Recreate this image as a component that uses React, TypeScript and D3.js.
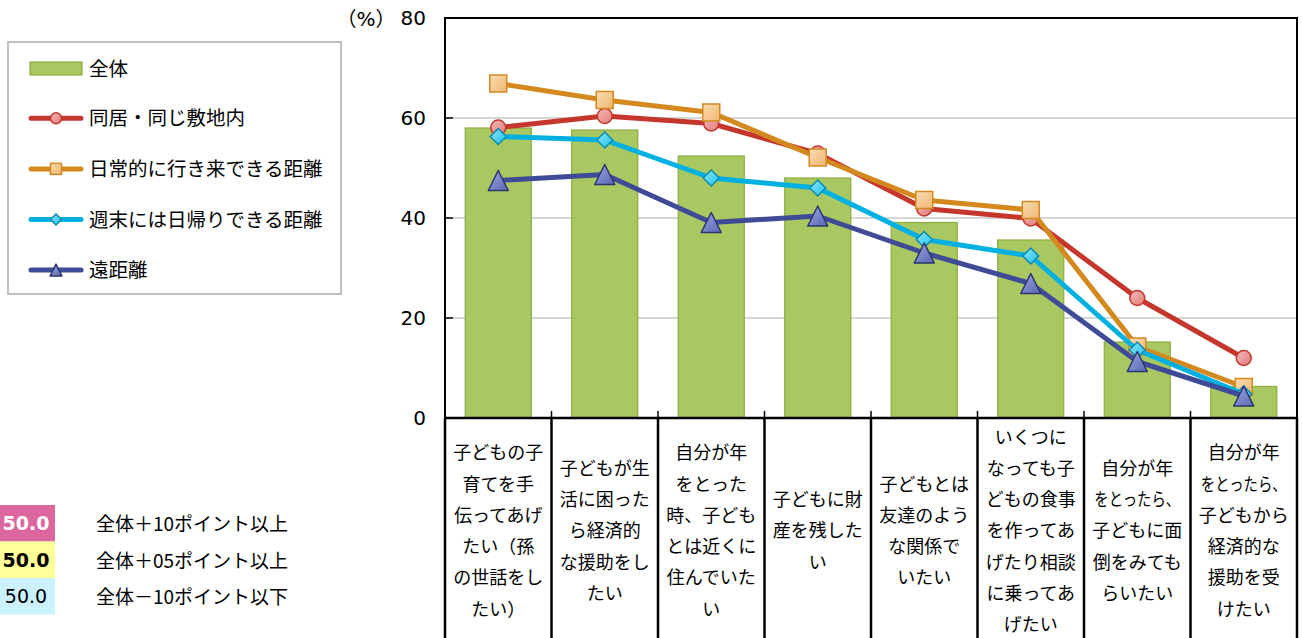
import React from "react";
import * as d3 from "d3";

const categories: string[][] = [
  ["子どもの子", "育てを手", "伝ってあげ", "たい（孫", "の世話をし", "たい）"],
  ["子どもが生", "活に困った", "ら経済的", "な援助をし", "たい"],
  ["自分が年", "をとった", "時、子ども", "とは近くに", "住んでいた", "い"],
  ["子どもに財", "産を残した", "い"],
  ["子どもとは", "友達のよう", "な関係で", "いたい"],
  ["いくつに", "なっても子", "どもの食事", "を作ってあ", "げたり相談", "に乗ってあ", "げたい"],
  ["自分が年", "をとったら、", "子どもに面", "倒をみても", "らいたい"],
  ["自分が年", "をとったら、", "子どもから", "経済的な", "援助を受", "けたい"],
];

const totalValues = [58.0, 57.6, 52.4, 48.0, 39.1, 35.6, 15.2, 6.3];
const doukyoValues = [58.1, 60.4, 58.9, 52.9, 41.9, 39.9, 24.0, 12.0];
const nichijoValues = [66.9, 63.6, 61.1, 52.1, 43.6, 41.6, 14.3, 6.2];
const shumatsuValues = [56.3, 55.6, 48.0, 46.0, 35.7, 32.4, 13.6, 4.8];
const enkyoriValues = [47.5, 48.7, 39.1, 40.4, 33.0, 26.9, 11.3, 4.4];

const seriesNames = ["全体", "同居・同じ敷地内", "日常的に行き来できる距離", "週末には日帰りできる距離", "遠距離"];
const yTicks = [0, 20, 40, 60, 80];
const highlightLegend = [
  { value: "50.0", label: "全体＋10ポイント以上" },
  { value: "50.0", label: "全体＋05ポイント以上" },
  { value: "50.0", label: "全体－10ポイント以下" },
];

const FONT = "'DejaVu Sans', 'Noto Sans CJK JP', sans-serif";
const JFONT = "'Noto Sans CJK JP', 'DejaVu Sans', sans-serif";

type MarkerKind = "circle" | "square" | "diamond" | "triangle";
const lineSeries = [
  { name: seriesNames[1], values: doukyoValues, color: "#C5362C", stroke: "#C5362C", grad: "gRed", marker: "circle" as MarkerKind },
  { name: seriesNames[2], values: nichijoValues, color: "#D4891F", stroke: "#D4891F", grad: "gOrange", marker: "square" as MarkerKind },
  { name: seriesNames[3], values: shumatsuValues, color: "#00B0E0", stroke: "#0A8CB0", grad: "gCyan", marker: "diamond" as MarkerKind },
  { name: seriesNames[4], values: enkyoriValues, color: "#404B98", stroke: "#2C3470", grad: "gNavy", marker: "triangle" as MarkerKind },
];

function Marker({ kind, x, y, s, fill, stroke }: { kind: MarkerKind; x: number; y: number; s: number; fill: string; stroke: string }) {
  const sw = 1.5;
  if (kind === "circle") return <circle cx={x} cy={y} r={s / 2} fill={fill} stroke={stroke} strokeWidth={sw} />;
  if (kind === "square") return <rect x={x - s / 2} y={y - s / 2} width={s} height={s} fill={fill} stroke={stroke} strokeWidth={sw} />;
  if (kind === "diamond") {
    const h = s / 2;
    return <path d={`M${x},${y - h}L${x + h},${y}L${x},${y + h}L${x - h},${y}Z`} fill={fill} stroke={stroke} strokeWidth={sw} />;
  }
  const h = s / 2;
  return <path d={`M${x},${y - h}L${x + h},${y + h}L${x - h},${y + h}Z`} fill={fill} stroke={stroke} strokeWidth={sw} strokeLinejoin="round" />;
}

export default function App() {
  const W = 1303, H = 638;
  const left = 445, right = 1297, top = 18, bottom = 418;
  const x = d3.scaleBand<number>().domain(d3.range(categories.length)).range([left, right]).paddingInner(0).paddingOuter(0);
  const y = d3.scaleLinear().domain([0, 80]).range([bottom, top]);
  const bw = x.bandwidth() * 0.62;
  const cx = (i: number) => (x(i) as number) + x.bandwidth() / 2;
  const line = d3.line<number>().x((_, i) => cx(i)).y((v) => y(v));
  const markerSize: Record<MarkerKind, number> = { circle: 15, square: 17, diamond: 16, triangle: 20 };
  const legMarkerSize: Record<MarkerKind, number> = { circle: 11, square: 11, diamond: 11, triangle: 12 };
  const boundaries = d3.range(categories.length + 1).map((i) => (i < categories.length ? (x(i) as number) : right));
  const lineH = 31.3;
  const labelCenter = 531;

  return (
    <svg width={W} height={H} style={{ position: "absolute", left: 0, top: 0, display: "block", background: "#fff" }}>
      <defs>
        <linearGradient id="gRed" x1="0" y1="0" x2="1" y2="1">
          <stop offset="0" stopColor="#F4B8B8" />
          <stop offset="1" stopColor="#E07C7A" />
        </linearGradient>
        <linearGradient id="gOrange" x1="0" y1="0" x2="1" y2="1">
          <stop offset="0" stopColor="#FBDDB4" />
          <stop offset="1" stopColor="#EFB570" />
        </linearGradient>
        <linearGradient id="gCyan" x1="0" y1="0" x2="1" y2="1">
          <stop offset="0" stopColor="#8DE6FA" />
          <stop offset="1" stopColor="#1FC0E8" />
        </linearGradient>
        <linearGradient id="gNavy" x1="0" y1="0" x2="1" y2="1">
          <stop offset="0" stopColor="#9AA6DC" />
          <stop offset="1" stopColor="#5A67B4" />
        </linearGradient>
      </defs>

      {yTicks.filter((t) => t > 0 && t < 80).map((t) => (
        <line key={t} x1={left} x2={right} y1={y(t)} y2={y(t)} stroke="#C8C8C8" strokeWidth={1.5} />
      ))}

      {totalValues.map((v, i) => (
        <rect key={i} x={cx(i) - bw / 2} y={y(v)} width={bw} height={y(0) - y(v)} fill="#A9C862" stroke="#8AAE3E" strokeWidth={1.2} />
      ))}

      {lineSeries.map((s) => (
        <g key={s.name}>
          <path d={line(s.values) || ""} fill="none" stroke={s.color} strokeWidth={5} strokeLinejoin="round" />
          {s.values.map((v, i) => (
            <Marker key={i} kind={s.marker} x={cx(i)} y={y(v)} s={markerSize[s.marker]} fill={`url(#${s.grad})`} stroke={s.stroke} />
          ))}
        </g>
      ))}

      <rect x={left} y={top} width={right - left} height={bottom - top} fill="none" stroke="#000" strokeWidth={2} />
      {yTicks.map((t) => (
        <line key={t} x1={left} x2={left + 8} y1={y(t)} y2={y(t)} stroke="#000" strokeWidth={1.5} />
      ))}
      {boundaries.map((b, i) => (
        <line key={i} x1={b} x2={b} y1={bottom - 7} y2={bottom} stroke="#000" strokeWidth={1.5} />
      ))}
      {boundaries.map((b, i) => (
        <line key={"v" + i} x1={b} x2={b} y1={bottom} y2={H} stroke="#000" strokeWidth={2.5} />
      ))}
      <line x1={left} x2={right} y1={bottom} y2={bottom} stroke="#000" strokeWidth={2.5} />

      {yTicks.map((t) => (
        <text key={t} x={426} y={y(t)} dy="0.36em" textAnchor="end" fontFamily={FONT} fontSize={20} fill="#000">{t}</text>
      ))}
      <text x={366} y={19} dy="0.36em" textAnchor="middle" fontFamily={JFONT} fontSize={20} fill="#000">
        <tspan>（</tspan><tspan fontFamily={FONT}>%</tspan><tspan>）</tspan>
      </text>

      {categories.map((lines, i) => {
        const start = labelCenter - ((lines.length - 1) * lineH) / 2;
        return (
          <g key={i}>
            {lines.map((ln, j) => {
              const sx = ln.length >= 6 ? 0.8 : 1;
              return (
                <g key={j} transform={`translate(${cx(i)},${start + j * lineH}) scale(${sx},1)`}>
                  <text x={0} y={0} dy="0.36em" textAnchor="middle" fontFamily={JFONT} fontSize={18} fill="#000">{ln}</text>
                </g>
              );
            })}
          </g>
        );
      })}

      <rect x={8} y={42} width={333} height={252} fill="#fff" stroke="#BFBFBF" strokeWidth={2} />
      <rect x={30} y={62} width={52} height={13} fill="#A9C862" stroke="#8AAE3E" strokeWidth={1.2} />
      <text x={89} y={68.5} dy="0.36em" fontFamily={JFONT} fontSize={19.5} fill="#000">{seriesNames[0]}</text>
      {lineSeries.map((s, k) => {
        const ly = 118.3 + k * 50.6;
        return (
          <g key={s.name}>
            <line x1={31} x2={81} y1={ly} y2={ly} stroke={s.color} strokeWidth={5} strokeLinecap="round" />
            <Marker kind={s.marker} x={56} y={ly} s={legMarkerSize[s.marker]} fill={`url(#${s.grad})`} stroke={s.stroke} />
            <text x={89} y={ly} dy="0.36em" fontFamily={JFONT} fontSize={19.5} fill="#000">{s.name}</text>
          </g>
        );
      })}

      {highlightLegend.map((h, k) => {
        const by = 505 + k * 36.5;
        const bg = ["#DB679E", "#FFFF99", "#CCF2FF"][k];
        const fg = ["#fff", "#000", "#000"][k];
        const fw = [700, 700, 400][k];
        return (
          <g key={k}>
            <rect x={0} y={by} width={55} height={36.5} fill={bg} />
            <text x={26} y={by + 18.5} dy="0.36em" textAnchor="middle" fontFamily={FONT} fontSize={19} fontWeight={fw} fill={fg}>{h.value}</text>
            <text x={96} y={by + 19.5} dy="0.36em" fontFamily={JFONT} fontSize={19} fill="#000">{h.label}</text>
          </g>
        );
      })}
    </svg>
  );
}
